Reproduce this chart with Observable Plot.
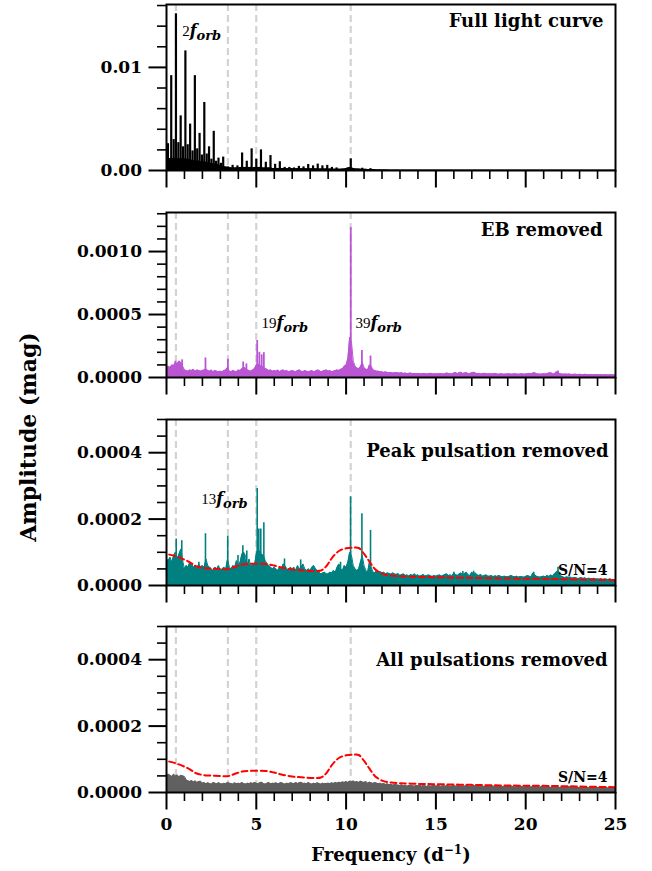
<!DOCTYPE html>
<html>
<head>
<meta charset="utf-8">
<script src="https://cdn.jsdelivr.net/npm/d3@7"></script>
<script src="https://cdn.jsdelivr.net/npm/@observablehq/plot@0.6"></script>
<style>
  html, body { margin: 0; padding: 0; background: #fff; overflow: hidden; }
  #fig { position: relative; width: 652px; height: 871px; }
  #fig svg { display: block; }
  .ylab {
    position: absolute; left: 28px; top: 437px;
    transform: translate(-50%, -50%) rotate(-90deg);
    font: bold 22px "DejaVu Serif", serif; white-space: nowrap; color: #000;
  }
</style>
</head>
<body>
<div id="fig"><div class="ylab">Amplitude (mag)</div></div>
<script>
// Orbital frequency (d^-1) and the harmonics marked by dashed lines
const forb = 0.263;
const harmonics = [2, 13, 19, 39];

// Frequency axis ticks (d^-1)
const xMajor = [0, 5, 10, 15, 20, 25];
const xMinor = [1, 2, 3, 4, 6, 7, 8, 9, 11, 12, 13, 14, 16, 17, 18, 19, 21, 22, 23, 24];

// Amplitude spectra sampled every 0.1 d^-1 from 0 to 25, in micro-mag
const freqStep = 0.1;

const fullBase = [
  1050,1100,1150,1200,1150,1200,1150,1150,1100,1150,
  1150,1100,1050,1050,1000,950,950,900,900,850,
  850,800,800,750,700,650,650,600,550,550,
  450,400,350,350,300,300,250,250,250,250,
  250,300,300,300,300,300,300,300,250,300,
  300,300,300,250,250,250,250,250,250,200,
  200,200,200,200,200,200,200,180,180,180,
  180,180,170,170,170,170,170,170,160,160,
  160,160,160,160,150,150,150,150,150,150,
  140,140,140,130,130,130,130,130,140,150,
  200,250,300,250,200,150,150,140,130,120,
  110,110,100,100,90,80,70,60,60,50,
  45,40,40,38,36,35,34,33,32,31,
  30,29,30,28,29,30,28,27,29,28,
  27,28,26,27,28,26,27,25,26,27,
  26,25,27,26,25,26,24,25,26,24,
  25,27,26,24,25,26,24,23,25,24,
  24,23,25,24,22,23,24,22,23,24,
  22,23,21,22,23,21,22,20,21,22,
  21,20,22,21,20,21,19,20,21,20,
  20,21,19,20,22,20,19,20,18,19,
  19,20,18,19,20,18,19,18,19,18,
  18,19,17,18,19,17,18,17,18,17,
  17,18,16,17,18,16,17,16,17,16,
  16,17,15,16,17,15,16,15,16,15,
  15
];

const ebNoise = [
  70,90,80,100,95,120,110,130,120,90,
  60,55,50,60,55,65,50,60,55,50,
  55,60,70,55,50,60,45,55,50,45,
  50,45,55,60,80,50,45,55,50,45,
  60,55,70,80,75,60,55,50,60,70,
  100,110,95,90,85,70,65,55,60,50,
  55,50,60,45,55,60,50,55,45,50,
  55,50,45,55,60,50,45,55,50,45,
  50,55,45,50,60,55,45,50,55,60,
  50,55,45,50,55,60,55,65,70,90,
  100,150,320,280,130,90,75,70,85,120,
  80,65,60,100,90,60,55,50,50,45,
  45,40,45,40,38,40,35,38,40,35,
  35,38,32,35,30,33,35,30,32,30,
  32,30,28,32,30,28,30,33,30,28,
  30,28,32,30,28,30,35,32,30,28,
  35,40,30,38,42,32,35,40,30,32,
  38,42,35,30,32,28,30,33,30,28,
  30,28,30,32,28,26,30,28,26,28,
  28,30,26,28,30,27,26,28,30,26,
  28,30,32,28,35,38,30,28,26,28,
  30,28,32,35,38,30,28,45,40,30,
  28,26,28,25,27,25,24,26,25,23,
  25,24,22,25,23,22,24,22,21,23,
  22,21,23,20,22,21,20,22,21,20,
  20
];

const peakNoise = [
  80,75,85,70,90,100,80,95,110,75,
  50,60,55,70,65,55,60,50,65,55,
  60,55,80,60,55,50,45,55,50,60,
  45,50,55,50,80,55,50,60,55,75,
  60,70,95,100,90,60,80,55,65,60,
  95,110,100,95,90,75,65,60,55,50,
  55,50,45,55,50,65,60,50,45,55,
  50,55,45,60,50,55,65,50,45,50,
  45,55,60,50,45,40,35,38,40,35,
  35,40,38,45,40,55,65,50,45,60,
  55,70,100,90,60,50,45,50,70,90,
  60,45,40,70,55,40,38,45,40,42,
  38,40,35,38,36,34,38,35,33,36,
  30,33,35,30,32,28,33,30,35,30,
  32,28,30,33,28,30,32,29,27,30,
  28,30,32,28,30,33,35,30,32,28,
  38,33,30,35,38,32,36,40,32,30,
  40,35,38,32,30,33,28,30,32,28,
  28,30,26,29,27,30,28,26,28,27,
  26,28,30,27,26,28,25,27,26,25,
  27,30,28,26,38,32,28,26,25,27,
  28,26,30,27,32,28,35,40,45,30,
  28,25,24,26,23,25,22,24,23,21,
  22,24,21,23,20,22,21,20,22,19,
  20,19,21,18,20,19,18,20,17,18,
  16
];

const allNoise = [
  50,55,52,48,55,50,53,47,52,50,
  48,38,35,33,36,32,35,30,33,34,
  28,30,26,29,27,25,30,28,26,29,
  27,25,28,26,30,28,27,25,29,26,
  28,26,30,27,25,28,26,29,27,30,
  28,26,29,31,27,25,28,30,26,28,
  27,29,26,28,30,27,25,28,26,29,
  28,26,30,27,29,31,27,28,26,30,
  27,25,28,26,29,27,25,28,26,27,
  28,26,29,27,30,28,31,29,32,30,
  33,30,34,32,35,31,33,30,34,32,
  30,33,28,31,29,27,30,28,26,28,
  25,27,24,26,23,25,22,24,23,22,
  21,23,20,22,19,21,22,20,19,21,
  20,22,19,21,20,18,21,19,20,22,
  19,21,20,18,22,19,20,21,18,20,
  21,19,20,22,18,20,19,21,20,18,
  20,22,19,21,18,20,19,18,20,19,
  18,20,19,17,19,18,20,18,17,19,
  18,17,19,18,16,18,19,17,18,16,
  17,19,18,16,18,17,19,17,16,18,
  17,16,18,17,15,17,18,16,17,15,
  16,17,15,16,18,16,15,17,16,15,
  15,16,17,15,16,14,15,16,15,14,
  15,14,16,15,14,15,13,15,14,14,
  14
];

// Resolved peaks: [frequency (d^-1), amplitude (micro-mag)]
const fullPeaks = [
  [0.08,2600],[0.263,9200],[0.40,3000],[0.526,15200],[0.66,2700],[0.789,5300],
  [0.92,2300],[1.052,11600],[1.18,2500],[1.316,4500],[1.45,1900],[1.579,9200],
  [1.71,2100],[1.842,3600],[1.97,1500],[2.105,6600],[2.24,1600],[2.368,2300],
  [2.50,1100],[2.631,3800],[2.76,900],[2.894,1200],[3.03,700],[3.157,1300],
  [3.42,350],[3.68,500],[3.95,450],[4.21,1700],[4.47,900],[4.74,2100],
  [5.00,1100],[5.26,2000],[5.53,800],[5.79,1450],[6.05,600],[6.31,850],
  [6.58,300],[6.84,300],[7.10,250],[7.37,400],[7.63,350],[7.89,580],
  [8.16,450],[8.42,620],[8.68,450],[8.95,500],[9.21,300],[9.47,250],
  [10.26,1130],[10.90,220],[11.36,180]
];

const ebPeaks = [
  [0.50,129],[0.70,130],[0.87,140],[2.17,155],[3.42,145],[4.27,123],[4.45,108],
  [5.05,294],[5.17,200],[5.30,180],[5.42,197],[10.26,1190],[10.88,215],
  [11.36,170],[21.80,52]
];

const peakPeaks = [
  [0.54,140],[0.85,135],[1.33,70],[1.80,70],[2.17,156],[3.41,148],[3.98,90],
  [4.25,120],[4.47,104],[5.05,292],[5.14,170],[5.25,170],[5.42,189],[6.57,80],
  [7.47,77],[9.69,70],[10.25,267],[10.88,216],[11.36,166],[16.0,40],[16.5,42],
  [17.1,43],[20.45,40],[21.8,55]
];

// S/N = 4 detection limit: [frequency (d^-1), amplitude (micro-mag)]
const snLimit = [
  [0.15,93],[0.4,90],[0.9,80],[1.3,70],[1.65,58],[2.0,53],[2.5,51],[3.0,50],
  [3.4,49],[3.75,55],[4.2,63],[4.6,65],[5.5,65],[6.0,60],[6.4,54],[7.0,48],
  [7.5,46],[8.1,44],[8.6,45],[8.9,58],[9.2,82],[9.6,104],[10.0,112],[10.4,114],
  [10.7,113],[11.0,95],[11.3,72],[11.6,50],[12.0,36],[12.5,30],[13.0,28],
  [14,26],[15,25],[17,23],[19,21],[21,20],[23,18],[25,16]
];

const toRows = vals => vals.map((v, i) => ({f: +(i * freqStep).toFixed(2), a: v * 1e-6}));
const pairRows = pairs => pairs.map(([f, v]) => ({f, a: v * 1e-6}));
const SVGNS = "http://www.w3.org/2000/svg";

function tspan(text, attrs) {
  const t = document.createElementNS(SVGNS, "tspan");
  t.textContent = text;
  for (const [k, v] of Object.entries(attrs || {})) t.setAttribute(k, v);
  return t;
}

function panel(cfg) {
  const rows = toRows(cfg.noise);
  const marks = [
    Plot.ruleX(harmonics, {x: n => n * forb, stroke: "#d3d3d3", strokeWidth: 2.2, strokeDasharray: "7,4"}),
    Plot.areaY(rows, {x: "f", y: "a", fill: cfg.color}),
    Plot.lineY(rows, {x: "f", y: "a", stroke: cfg.color, strokeWidth: 1}),
    Plot.ruleX(pairRows(cfg.peaks), {x: "f", y1: 0, y2: "a", stroke: cfg.color, strokeWidth: cfg.peakWidth})
  ];
  if (cfg.sn) {
    marks.push(Plot.line(pairRows(snLimit), {x: "f", y: "a", stroke: "#ff0000", strokeWidth: 2,
      strokeDasharray: "6,3.5", curve: "catmull-rom"}));
    marks.push(Plot.text(["S/N=4"], {text: d => d, frameAnchor: "bottom-right", textAnchor: "end",
      lineAnchor: "bottom", dx: -8, dy: -11, fontSize: 14}));
  }
  marks.push(Plot.text([cfg.title], {text: d => d, frameAnchor: "top-right", textAnchor: "end",
    lineAnchor: "top", dx: cfg.titleDx, dy: cfg.titleDy, fontSize: 18}));
  if (cfg.labels) {
    marks.push(Plot.text(cfg.labels, {x: "f", y: "a", text: d => `${d.n}f_orb`, textAnchor: "start",
      lineAnchor: "bottom", fontFamily: "Liberation Serif", fontWeight: "normal", fontSize: 15}));
  }
  if (cfg.last) {
    marks.push(Plot.text(["Frequency (d^-1)"], {text: d => d, frameAnchor: "bottom", lineAnchor: "bottom",
      dy: 68, fontSize: 18}));
  }
  marks.push(Plot.frame({stroke: "black", strokeWidth: 2}));
  marks.push(Plot.axisY({ticks: cfg.yMajor, tickSize: 17.5, tickPadding: 7, tickFormat: cfg.fmt,
    strokeWidth: 2, label: null}));
  marks.push(Plot.axisY({ticks: cfg.yMinor, tickSize: 9, tickFormat: () => "", strokeWidth: 1.6, label: null}));
  marks.push(Plot.axisX({ticks: xMajor, tickSize: 17.5, tickPadding: 8,
    tickFormat: cfg.last ? d => String(d) : () => "", strokeWidth: 2, label: null}));
  marks.push(Plot.axisX({ticks: xMinor, tickSize: 9, tickFormat: () => "", strokeWidth: 1.6, label: null}));

  const svg = Plot.plot({
    width: 652, height: cfg.height,
    marginLeft: 166, marginRight: 37, marginTop: 4, marginBottom: cfg.marginBottom,
    x: {domain: [0, 25], label: null},
    y: {domain: cfg.domain, label: null},
    style: {fontFamily: "DejaVu Serif, serif", fontSize: "17px", fontWeight: "bold", color: "black",
      background: "white", overflow: "visible"},
    marks
  });

  // Rich text: harmonic labels (n f_orb) and the frequency unit superscript
  svg.querySelectorAll("text").forEach(t => {
    const s = t.textContent;
    const m = /^(\d+)f_orb$/.exec(s);
    if (m) {
      t.textContent = "";
      const it = {"font-family": "DejaVu Serif", "font-style": "italic", "font-weight": "bold"};
      t.append(
        tspan(m[1]),
        tspan("f", {...it, "font-size": "16"}),
        tspan("orb", {...it, "font-size": "13", dy: "4"})
      );
    } else if (s === "Frequency (d^-1)") {
      t.textContent = "";
      t.append(
        tspan("Frequency (d"),
        tspan("\u22121", {"font-size": "12", dy: "-7"}),
        tspan(")", {dy: "7"})
      );
    }
  });
  return svg;
}

const fig = document.getElementById("fig");
const y34Major = [0, 0.0002, 0.0004];
const y34Minor = [0.00005, 0.0001, 0.00015, 0.00025, 0.0003, 0.00035, 0.00045, 0.0005];

fig.append(panel({
  noise: fullBase, peaks: fullPeaks, color: "black", peakWidth: 2.2,
  domain: [0, 0.0161], yMajor: [0, 0.01], yMinor: [0.002, 0.004, 0.006, 0.008, 0.012, 0.014, 0.016],
  fmt: d => d.toFixed(2), title: "Full light curve", titleDx: -12, titleDy: 10,
  labels: [{n: 2, f: 0.87, a: 0.0130}], height: 208, marginBottom: 38
}));
fig.append(panel({
  noise: ebNoise, peaks: ebPeaks, color: "#ba55d3", peakWidth: 1.8,
  domain: [0, 0.00131], yMajor: [0, 0.0005, 0.001],
  yMinor: [0.0001, 0.0002, 0.0003, 0.0004, 0.0006, 0.0007, 0.0008, 0.0009, 0.0011, 0.0012, 0.0013],
  fmt: d => d.toFixed(4), title: "EB removed", titleDx: -13, titleDy: 11,
  labels: [{n: 19, f: 5.29, a: 0.000395}, {n: 39, f: 10.52, a: 0.000395}], height: 207, marginBottom: 38
}));
fig.append(panel({
  noise: peakNoise, peaks: peakPeaks, color: "#008080", peakWidth: 1.6, sn: true,
  domain: [0, 0.0005], yMajor: y34Major, yMinor: y34Minor,
  fmt: d => d.toFixed(4), title: "Peak pulsation removed", titleDx: -7, titleDy: 25,
  labels: [{n: 13, f: 1.93, a: 0.000245}], height: 207, marginBottom: 37
}));
fig.append(panel({
  noise: allNoise, peaks: [], color: "#606060", peakWidth: 1.6, sn: true,
  domain: [0, 0.0005], yMajor: y34Major, yMinor: y34Minor,
  fmt: d => d.toFixed(4), title: "All pulsations removed", titleDx: -8, titleDy: 27,
  height: 249, marginBottom: 79, last: true
}));
</script>
</body>
</html>
